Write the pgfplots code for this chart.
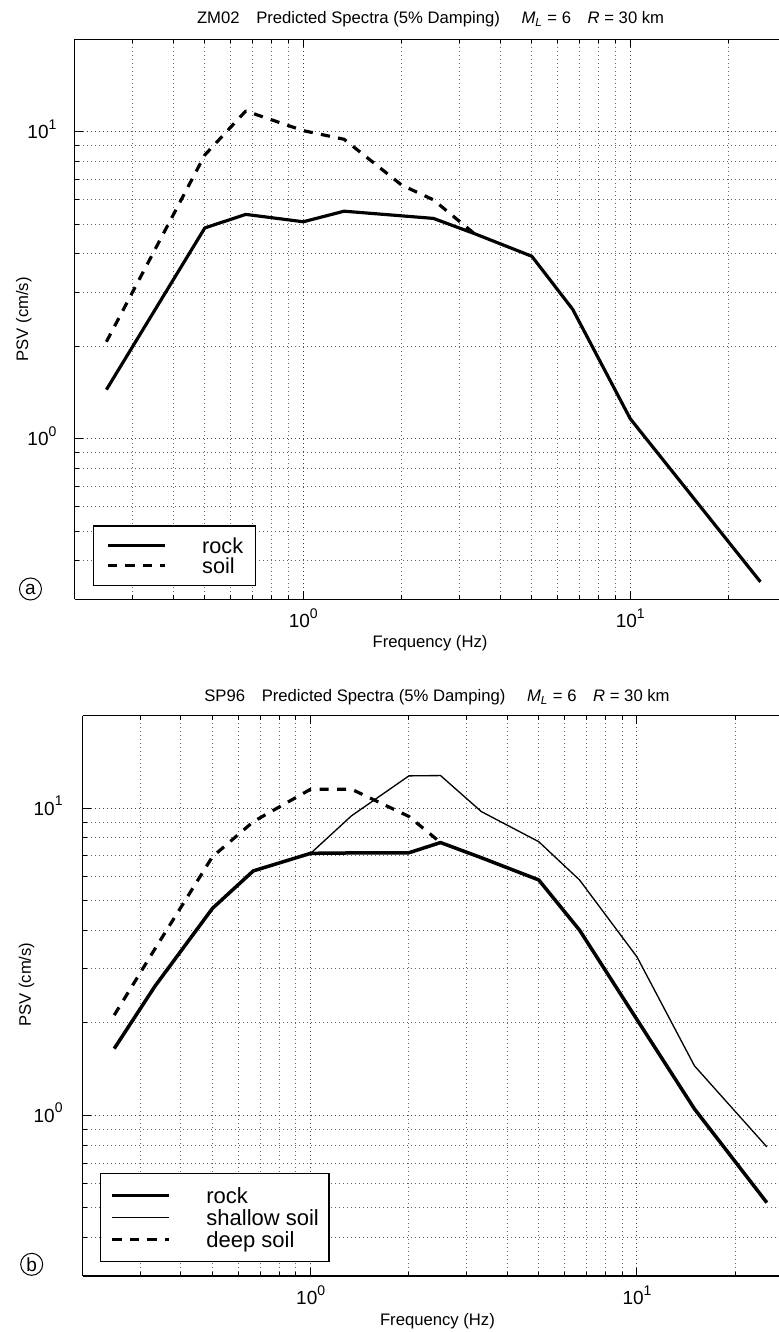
\documentclass[border=0pt]{standalone}
\usepackage{fontspec}
\setmainfont{Liberation Sans}
\usepackage{pgfplots}
\pgfplotsset{compat=1.18}

\newcommand{\tl}[1]{10\raisebox{5.6pt}{\fontsize{8.4}{8.4}\selectfont #1}}

\tikzset{circ/.style={draw, circle, minimum size=13.2pt, inner sep=0pt, line width=0.6pt, font=\fontsize{11.4}{11.4}\selectfont}}

\begin{document}
\begin{tikzpicture}
\useasboundingbox (0,0) rectangle (467.4pt,-799.2pt);

% ---------------- panel (a) ----------------
\begin{axis}[
  xmode=log, ymode=log,
  scale only axis,
  axis x line=box, axis y line=left,
  axis line style={-, line width=0.9pt, black},
  ymin=0.3, ymax=20, xmin=0.2, xmax=28.5,
  xtick={1,10}, xticklabels={\tl{0},\tl{1}},
  ytick={1,10}, yticklabels={\tl{0},\tl{1}},
  minor xtick={0.3,0.4,0.5,0.6,0.7,0.8,0.9,2,3,4,5,6,7,8,9,20},
  minor ytick={0.4,0.5,0.6,0.7,0.8,0.9,2,3,4,5,6,7,8,9},
  grid=both,
  major grid style={dotted, line width=0.6pt, black!75},
  minor grid style={dotted, line width=0.6pt, black!60},
  tick style={black, line width=0.6pt},
  major tick length=4.8pt, minor tick length=2.4pt,
  tick align=inside,
  ticklabel style={font=\fontsize{11.4}{11.4}\selectfont},
  xticklabel style={anchor=base, inner sep=0pt, yshift=-17pt},
  yticklabel style={anchor=base east, inner sep=0pt, yshift=-4.1pt, xshift=-10.8pt},
  label style={font=\fontsize{11.4}{13}\selectfont, inner sep=0pt},
  title style={font=\fontsize{11.1}{13}\selectfont, inner sep=0pt},
  xlabel={Frequency (Hz)},
  ylabel={PSV (cm/s)},
  legend cell align=left,
  clip=false,
  at={(44.82pt,-23.58pt)}, anchor=north west,
  width=422.58pt, height=336pt,
  title={ZM02\hspace{1em}Predicted Spectra (5\% Damping)\hspace{1.3em}\textit{M}\textsubscript{\textit{L}} = 6\hspace{1em}\textit{R} = 30 km},
  every axis title/.style={at={(rel axis cs:0.5053,1)}, yshift=9.2pt, anchor=base},
  every axis x label/.style={at={(rel axis cs:0.5045,0)}, yshift=-29.2pt, anchor=base},
  every axis y label/.style={at={(rel axis cs:0,0.5)}, xshift=-28pt, rotate=90, anchor=base},
  legend style={at={(rel axis cs:0.0264,0.0238)}, anchor=south west, draw=black, line width=0.7pt,
    fill=white, inner xsep=7.5pt, inner ysep=5.8pt, row sep=0pt,
    font=\fontsize{13}{13}\selectfont,
    nodes={inner sep=0pt, text height=10.4pt, text depth=1.6pt},
    /tikz/every odd column/.append style={column sep=21.6pt}},
  legend image code/.code={\draw[#1] (0pt,0pt) -- (34pt,0pt);},
]
\addplot[black, line width=1.9pt, line join=round] coordinates {
 (0.25,1.445) (0.5,4.86) (0.667,5.38) (1,5.09) (1.333,5.51) (2.5,5.22)
 (3.333,4.66) (5,3.93) (6.667,2.64) (10,1.162) (25,0.342)
};
\addlegendentry{rock}
\addplot[black, line width=1.9pt, line join=round, dash pattern=on 5.5pt off 5pt] coordinates {
 (0.25,2.07) (0.5,8.4) (0.667,11.68) (1,10.08) (1.333,9.45) (2,6.7) (2.5,6.0) (3.333,4.66)
};
\addlegendentry{soil}
\node[circ] at (rel axis cs:-0.0628,0.0184) {a};
\end{axis}

% ---------------- panel (b) ----------------
\begin{axis}[
  xmode=log, ymode=log,
  scale only axis,
  axis x line=box, axis y line=left,
  axis line style={-, line width=0.9pt, black},
  ymin=0.3, ymax=20, xmin=0.2, xmax=27.24,
  xtick={1,10}, xticklabels={\tl{0},\tl{1}},
  ytick={1,10}, yticklabels={\tl{0},\tl{1}},
  minor xtick={0.3,0.4,0.5,0.6,0.7,0.8,0.9,2,3,4,5,6,7,8,9,20},
  minor ytick={0.4,0.5,0.6,0.7,0.8,0.9,2,3,4,5,6,7,8,9},
  grid=both,
  major grid style={dotted, line width=0.6pt, black!75},
  minor grid style={dotted, line width=0.6pt, black!60},
  tick style={black, line width=0.6pt},
  major tick length=4.8pt, minor tick length=2.4pt,
  tick align=inside,
  ticklabel style={font=\fontsize{11.4}{11.4}\selectfont},
  xticklabel style={anchor=base, inner sep=0pt, yshift=-17pt},
  yticklabel style={anchor=base east, inner sep=0pt, yshift=-4.1pt, xshift=-11.8pt},
  label style={font=\fontsize{11.4}{13}\selectfont, inner sep=0pt},
  title style={font=\fontsize{11.1}{13}\selectfont, inner sep=0pt},
  xlabel={Frequency (Hz)},
  ylabel={PSV (cm/s)},
  legend cell align=left,
  clip=false,
  at={(49.56pt,-429.42pt)}, anchor=north west,
  width=417.84pt, height=336.2pt,
  title={SP96\hspace{1em}Predicted Spectra (5\% Damping)\hspace{1.3em}\textit{M}\textsubscript{\textit{L}} = 6\hspace{1em}\textit{R} = 30 km},
  every axis title/.style={at={(rel axis cs:0.5089,1)}, yshift=8.4pt, anchor=base},
  every axis x label/.style={at={(rel axis cs:0.5096,0)}, yshift=-29.4pt, anchor=base},
  every axis y label/.style={at={(rel axis cs:0,0.52)}, xshift=-31pt, rotate=90, anchor=base},
  legend style={at={(rel axis cs:0.025,0.0245)}, anchor=south west, draw=black, line width=0.7pt,
    fill=white, inner xsep=6pt, inner ysep=6.6pt, row sep=0pt,
    font=\fontsize{13.2}{13.2}\selectfont,
    nodes={inner sep=0pt, text height=11pt, text depth=2.2pt},
    /tikz/every odd column/.append style={column sep=21.4pt}},
  legend image code/.code={\draw[#1] (0pt,0pt) -- (34pt,0pt);},
]
\addplot[black, line width=2.1pt, line join=round] coordinates {
 (0.25,1.65) (0.333,2.63) (0.5,4.72) (0.667,6.25) (1,7.13) (1.333,7.15) (2,7.16)
 (2.5,7.73) (3.333,6.9) (5,5.84) (6.667,4.01) (10,2.05) (15,1.05) (25,0.52)
};
\addlegendentry{rock}
\addplot[black, line width=0.8pt, line join=round] coordinates {
 (1,7.13) (1.333,9.44) (2,12.74) (2.5,12.77) (3.333,9.75) (5,7.78) (6.667,5.84)
 (10,3.28) (15,1.45) (25,0.79)
};
\addlegendentry{shallow soil}
\addplot[black, line width=1.9pt, line join=round, dash pattern=on 5.5pt off 5pt] coordinates {
 (0.25,2.12) (0.333,3.48) (0.5,6.95) (0.667,9.04) (1,11.53) (1.333,11.53) (2,9.4) (2.5,7.73)
};
\addlegendentry{deep soil}
\node[circ] at (rel axis cs:-0.0731,0.0209) {b};
\end{axis}
\end{tikzpicture}
\end{document}
